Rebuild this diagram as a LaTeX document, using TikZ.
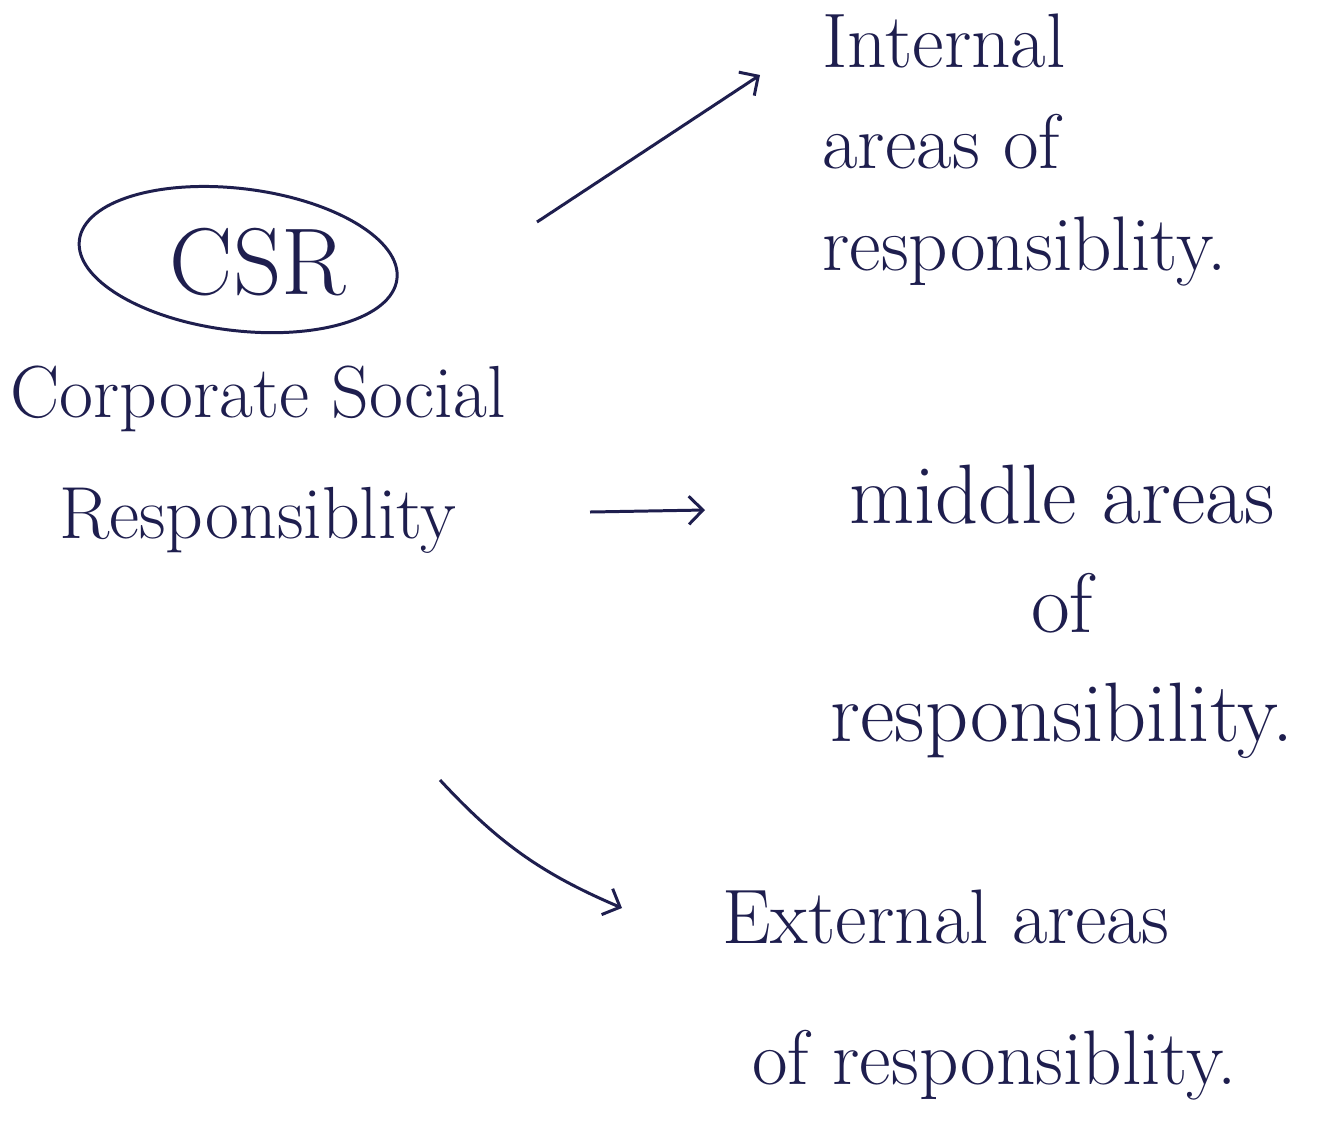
\documentclass[tikz,border=0pt]{standalone}
\usepackage{tikz}
\usetikzlibrary{arrows.meta,positioning,shapes.geometric}
\definecolor{ink}{RGB}{30,30,78}

\begin{document}
\begin{tikzpicture}[
	x = 0.02cm, y = -0.02cm,
	> = {Straight Barb[length=8pt,width=16pt]},
	every node/.style = {text=ink, inner sep=0pt},
	hand/.style = {font=\fontsize{44}{58}\selectfont},
	link/.style = {->, draw=ink, line width=1.7pt}
	]
	\fill[white] (0,0) rectangle (1321,1130);
	\node[font=\fontsize{54}{60}\selectfont] (csr) at (258,262) {CSR};
	\draw[ink, line width=1.7pt, rotate around={-7:([xshift=-0.4cm]csr.center)}]
		([xshift=-0.4cm]csr.center) ellipse [x radius=3.2cm, y radius=1.42cm];
	\node[hand, align=center, font=\fontsize{42}{69}\selectfont] (fullname) at (258,460)
		{Corporate Social\\Responsiblity};
	\node[hand, align=left, anchor=west] (internal) at (822,150)
		{Internal\\areas of\\responsiblity.};
	\node[hand, align=center, font=\fontsize{48}{62}\selectfont] (middle) at (1062,612)
		{middle areas\\of\\responsibility.};
	\node[hand, align=left, anchor=west, font=\fontsize{44}{80}\selectfont] (external) at (722,995)
		{External areas\\\hspace{0.6cm}of responsiblity.};
	% arrow ends
	\coordinate (intfrom) at (537,222);
	\coordinate (intto) at (760,75);
	\coordinate (midfrom) at (590,512);
	\coordinate (midto) at (705,510);
	\coordinate (extfrom) at (440,780);
	\coordinate (extto) at (622,908);
	\draw[link] (intfrom) -- (intto);
	\draw[link] (midfrom) -- (midto);
	\draw[link] (extfrom) to[bend right=12] (extto);
\end{tikzpicture}
\end{document}
